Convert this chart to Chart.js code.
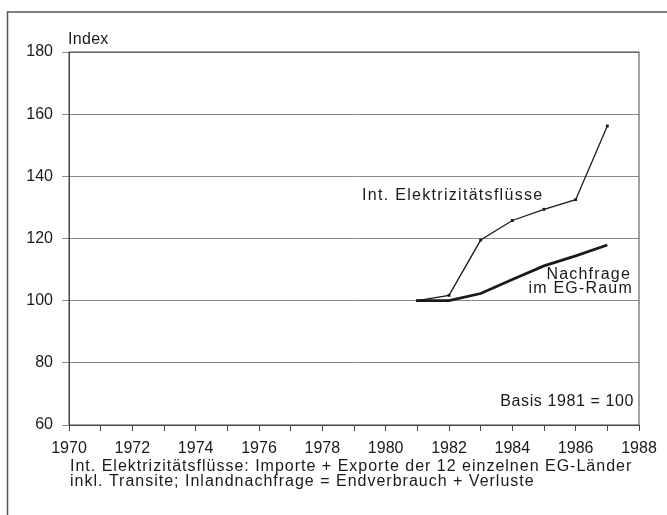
<!DOCTYPE html>
<html>
<head>
<meta charset="utf-8">
<script src="https://cdn.jsdelivr.net/npm/chart.js@4"></script>
<style>
  html, body { margin: 0; padding: 0; background: #fff; }
  #wrap { width: 667px; height: 515px; }
</style>
</head>
<body>
<div id="wrap"><canvas id="chart" width="667" height="515"></canvas></div>
<script>
// Data
const years = [1981, 1982, 1983, 1984, 1985, 1986, 1987];
const flowData = [100, 101.7, 119.5, 125.8, 129.4, 132.5, 156.2];   // Int. Elektrizitätsflüsse
const demandData = [100, 100, 102.3, 106.8, 111.2, 114.4, 117.9];   // Nachfrage im EG-Raum
const yTicks = [60, 80, 100, 120, 140, 160, 180];
const xLabelYears = [1970, 1972, 1974, 1976, 1978, 1980, 1982, 1984, 1986, 1988];

const ink = '#1a1a1a';
const font = 'Liberation Sans, Arial, sans-serif';

function toPoints(values) {
    return years.map((y, i) => ({ x: y, y: values[i] }));
}

// Texts, frame and plot border drawn on top of the chart
const decorations = {
    id: 'decorations',
    afterDraw(chart) {
        const { ctx, chartArea } = chart;
        ctx.save();
        ctx.strokeStyle = '#555';
        ctx.lineWidth = 1.5;
        // outer frame (left and top edge visible)
        ctx.beginPath();
        ctx.moveTo(7.5, 515);
        ctx.lineTo(7.5, 12);
        ctx.lineTo(667, 12);
        ctx.stroke();
        // plot box
        ctx.strokeStyle = '#444';
        ctx.lineWidth = 1;
        ctx.strokeRect(chartArea.left, chartArea.top, chartArea.right - chartArea.left, chartArea.bottom - chartArea.top);

        ctx.fillStyle = ink;
        ctx.textBaseline = 'middle';
        ctx.textAlign = 'left';
        ctx.font = '16px ' + font;
        ctx.letterSpacing = '0.3px';
        ctx.fillText('Index', 68, 40);

        ctx.letterSpacing = '1.3px';
        ctx.fillText('Int. Elektrizitätsflüsse', 362, 196);
        ctx.textAlign = 'right';
        ctx.letterSpacing = '1.2px';
        ctx.fillText('Nachfrage', 631, 275);
        ctx.fillText('im EG-Raum', 633, 289);

        ctx.letterSpacing = '0.6px';
        ctx.fillText('Basis 1981 = 100', 634, 402);

        ctx.textAlign = 'left';
        ctx.letterSpacing = '1px';
        ctx.fillText('Int. Elektrizitätsflüsse: Importe + Exporte der 12 einzelnen EG-Länder', 70, 467);
        ctx.fillText('inkl. Transite; Inlandnachfrage = Endverbrauch + Verluste', 70, 482);
        ctx.restore();
    }
};

const ctx = document.getElementById('chart').getContext('2d');
const chart = new Chart(ctx, {
    type: 'line',
    data: {
        datasets: [{
            label: 'Int. Elektrizitätsflüsse',
            data: toPoints(flowData),
            borderColor: ink,
            borderWidth: 1.3,
            pointStyle: 'rect',
            pointRadius: 2,
            pointBackgroundColor: ink,
            pointBorderWidth: 0,
            tension: 0,
        }, {
            label: 'Nachfrage im EG-Raum',
            data: toPoints(demandData),
            borderColor: ink,
            borderWidth: 2.8,
            pointRadius: 0,
            tension: 0,
        }]
    },
    options: {
        responsive: false,
        animation: false,
        layout: {
            padding: { left: 0, right: 28, top: 52, bottom: 0 }
        },
        plugins: {
            legend: { display: false },
            tooltip: { enabled: false },
        },
        scales: {
            x: {
                type: 'linear',
                min: 1970,
                max: 1988,
                afterFit: (scale) => { scale.height = 90; },
                afterBuildTicks: (scale) => {
                    scale.ticks = [];
                    for (let y = 1970; y <= 1988; y++) scale.ticks.push({ value: y });
                },
                ticks: {
                    autoSkip: false,
                    maxRotation: 0,
                    padding: 8,
                    color: ink,
                    font: { family: font, size: 16 },
                    callback: (v) => xLabelYears.includes(v) ? String(v) : '',
                },
                grid: {
                    drawOnChartArea: false,
                    drawTicks: true,
                    tickLength: 6,
                    color: '#444',
                },
                border: { display: true, color: '#444', width: 1 },
            },
            y: {
                min: 60,
                max: 180,
                afterFit: (scale) => { scale.width = 69; },
                afterBuildTicks: (scale) => {
                    scale.ticks = yTicks.map(v => ({ value: v }));
                },
                ticks: {
                    padding: 9,
                    color: ink,
                    font: { family: font, size: 16 },
                },
                grid: {
                    drawOnChartArea: true,
                    drawTicks: true,
                    tickLength: 7,
                    color: '#8a8a8a',
                    lineWidth: 1,
                },
                border: { display: true, color: '#444', width: 1 },
            }
        }
    },
    plugins: [decorations]
});
</script>
</body>
</html>
